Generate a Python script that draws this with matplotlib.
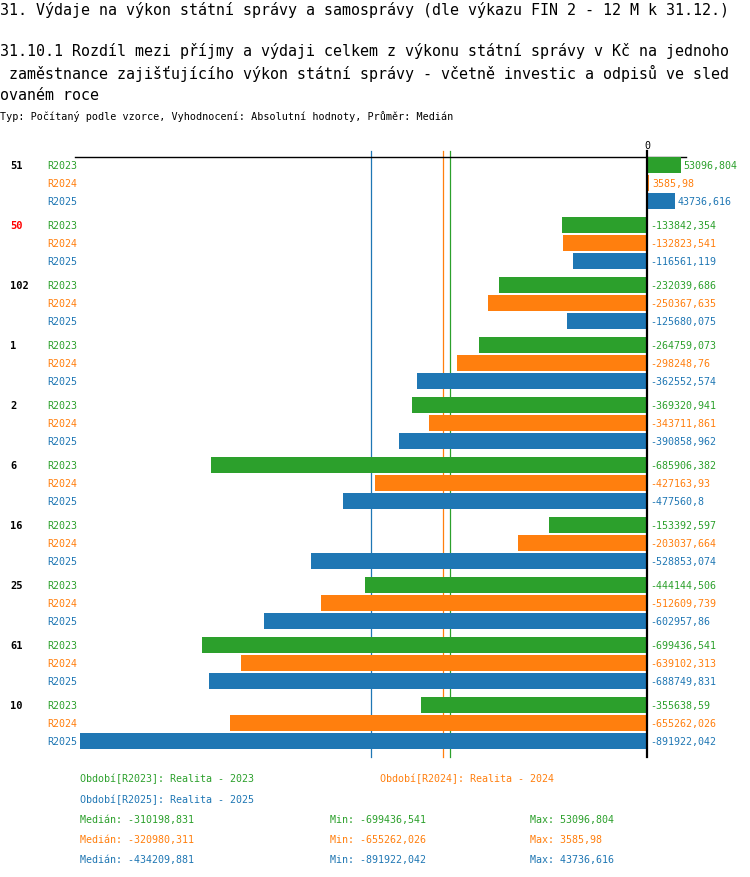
import numpy as np
import matplotlib
matplotlib.use("Agg")
import matplotlib.pyplot as plt
import matplotlib.transforms as mtransforms

# data
groups = ['51', '50', '102', '1', '2', '6', '16', '25', '61', '10']
group_colors = ['black', 'red'] + ['black'] * 8
series = ['R2023', 'R2024', 'R2025']
series_names = ['Realita - 2023', 'Realita - 2024', 'Realita - 2025']
colors = ['#2ca02c', '#ff7f0e', '#1f77b4']

r2023 = [53096.804, -133842.354, -232039.686, -264759.073, -369320.941,
         -685906.382, -153392.597, -444144.506, -699436.541, -355638.59]
r2024 = [3585.98, -132823.541, -250367.635, -298248.76, -343711.861,
         -427163.93, -203037.664, -512609.739, -639102.313, -655262.026]
r2025 = [43736.616, -116561.119, -125680.075, -362552.574, -390858.962,
         -477560.8, -528853.074, -602957.86, -688749.831, -891922.042]
values = [r2023, r2024, r2025]

title = "31. Výdaje na výkon státní správy a samosprávy (dle výkazu FIN 2 - 12 M k 31.12.)"
subtitle = ["31.10.1 Rozdíl mezi příjmy a výdaji celkem z výkonu státní správy v Kč na jednoho",
            " zaměstnance zajišťujícího výkon státní správy - včetně investic a odpisů ve sled",
            "ovaném roce"]
info = "Typ: Počítaný podle vzorce, Vyhodnocení: Absolutní hodnoty, Průměr: Medián"

W, H = 750, 878
plt.rcParams['font.family'] = ['DejaVu Sans Mono']


def fmt(v):
    s = f"{v:.3f}".rstrip('0').rstrip('.')
    return s.replace('.', ',')


def fx(x):
    return x / W


def fy(y):
    return 1 - y / H


fig = plt.figure(figsize=(W / 100, H / 100), dpi=100)

# plot area in pixels: x 75..686, y 158..758
ax = fig.add_axes([fx(75), fy(758), (686 - 75) / W, 600 / H])

# row layout: 18 px per bar row, 60 px per group
row = 18.0
gstep = 60.0 / row
top_px, first_px = 158, 166


def ypos(g, k):
    return g * gstep + k


ax.set_ylim((758 - first_px) / row, (top_px - first_px) / row)

# x scale: 0 at px 647, min at px 80
vmin = min(min(v) for v in values)
scale = (647 - 80) / -vmin
ax.set_xlim(-(647 - 75) / scale, (686 - 647) / scale)

for k in range(3):
    ys = [ypos(g, k) for g in range(len(groups))]
    ax.barh(ys, values[k], height=16 / row, color=colors[k], zorder=3)
    for y, v in zip(ys, values[k]):
        ax.annotate(fmt(v), (max(v, 0), y), xytext=(3, 0), textcoords='offset pixels',
                    va='center', ha='left', color=colors[k], fontsize=7.2,
                    annotation_clip=False)

# median lines
y_line_top = (152 - first_px) / row
y_line_bot = (758 - first_px) / row
for k in range(3):
    m = np.median(values[k])
    ax.plot([m, m], [y_line_top, y_line_bot], color=colors[k], lw=0.9,
            zorder=2, clip_on=False)

ax.plot([0, 0], [y_line_top, y_line_bot], color='black', lw=1.6, zorder=4, clip_on=False)
ax.text(0, (146 - first_px) / row, '0', ha='center', va='center', fontsize=7.2)

for s in ['left', 'right', 'bottom']:
    ax.spines[s].set_visible(False)
ax.spines['top'].set_linewidth(1.0)
ax.set_xticks([])
ax.set_yticks([])

# row labels
tr = mtransforms.blended_transform_factory(fig.transFigure, ax.transData)
for g, name in enumerate(groups):
    ax.text(fx(10), ypos(g, 0), name, transform=tr, ha='left', va='center',
            fontsize=7.5, fontweight='bold', color=group_colors[g])
    for k in range(3):
        ax.text(fx(47), ypos(g, k), series[k], transform=tr, ha='left', va='center',
                fontsize=7.2, color=colors[k])

# titles
fig.text(fx(0), fy(10), title, ha='left', va='center', fontsize=10.8)
for i, line in enumerate(subtitle):
    fig.text(fx(0), fy(51 + i * 22.5), line, ha='left', va='center', fontsize=10.8)
fig.text(fx(0), fy(117), info, ha='left', va='center', fontsize=7.3)

# legend
legend_pos = [(80, 779), (380, 779), (80, 800)]
for k in range(3):
    x, y = legend_pos[k]
    fig.text(fx(x), fy(y), f"Období[{series[k]}]: {series_names[k]}", ha='left',
             va='center', fontsize=7.2, color=colors[k])
for k in range(3):
    y = 820 + k * 20
    fig.text(fx(80), fy(y), f"Medián: {fmt(np.median(values[k]))}", ha='left',
             va='center', fontsize=7.2, color=colors[k])
    fig.text(fx(330), fy(y), f"Min: {fmt(min(values[k]))}", ha='left',
             va='center', fontsize=7.2, color=colors[k])
    fig.text(fx(530), fy(y), f"Max: {fmt(max(values[k]))}", ha='left',
             va='center', fontsize=7.2, color=colors[k])

fig.savefig('out.png', dpi=100)
